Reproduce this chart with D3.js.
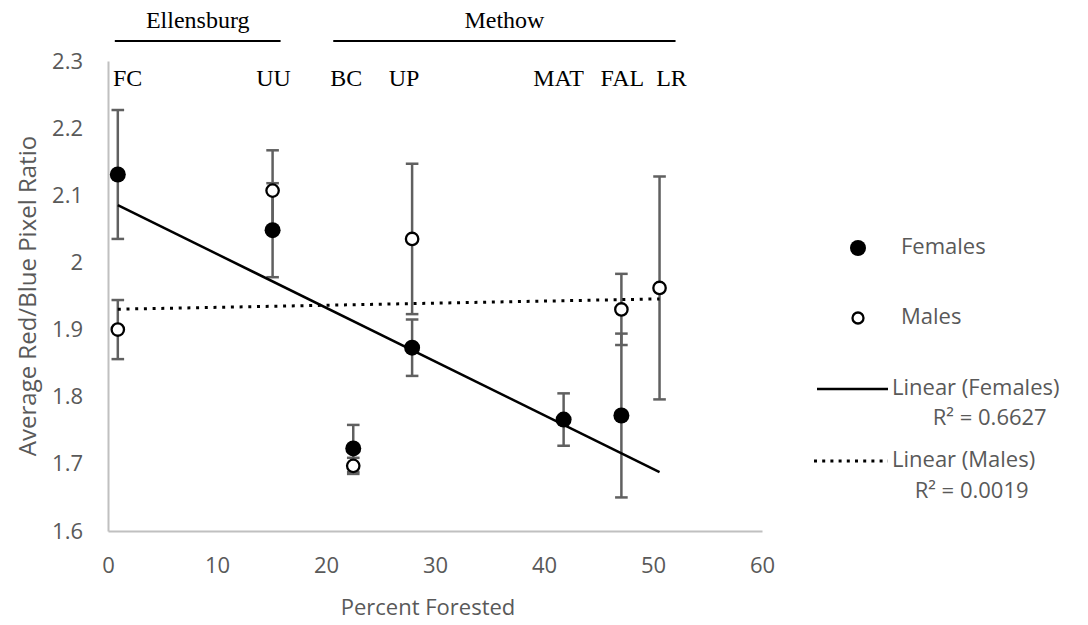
<!DOCTYPE html>
<html><head><meta charset="utf-8">
<script src="https://cdn.jsdelivr.net/npm/d3@7"></script>
<style>body{margin:0;background:#fff}</style>
</head><body><svg id="c" width="1088" height="625"></svg>
<script>
const sites = ["FC","UU","BC","UP","MAT","FAL","LR"];
const percentForested = [0.9,15.1,22.5,27.9,41.8,47.1,50.6];
const femaleMean = [2.131,2.048,1.723,1.873,1.766,1.772,null];
const femaleErr  = [0.096,0.070,0.035,0.042,0.039,0.122,null];
const maleMean   = [1.900,2.107,1.697,2.035,null,1.930,1.962];
const maleErr    = [0.044,0.060,0.012,0.112,null,0.053,0.166];
const xTicks = [0,10,20,30,40,50,60];
const yTicks = [1.6,1.7,1.8,1.9,2.0,2.1,2.2,2.3];
const regionNames = ["Ellensburg","Methow"];
const regionFirstSite = ["FC","BC"];
const regionLastSite = ["UU","LR"];
const legendLabels = ["Females","Males","Linear (Females)","Linear (Males)"];
const r2Labels = ["R² = 0.6627","R² = 0.0019"];
const xTitle = "Percent Forested";
const yTitle = "Average Red/Blue Pixel Ratio";

const svg = d3.select("#c");
const sans = "'Open Sans', sans-serif";
const serif = "'Liberation Serif', 'Times New Roman', serif";
const grey = "#595959";

const x = d3.scaleLinear().domain([0,60]).range([108,762]);
const y = d3.scaleLinear().domain([1.6,2.3]).range([531,61]);

// axes
const xAxis = svg.append("g").attr("transform",`translate(0,${y(1.6)})`)
  .call(d3.axisBottom(x).tickValues(xTicks).tickSize(0).tickPadding(26).tickFormat(d=>d));
const yAxis = svg.append("g").attr("transform",`translate(${x(0)},0)`)
  .call(d3.axisLeft(y).tickValues(yTicks).tickSize(0).tickPadding(25).tickFormat(d=>String(+d.toFixed(1))));
[xAxis,yAxis].forEach(a=>{
  a.select(".domain").attr("stroke","#c0c0c0").attr("stroke-width",2);
  a.selectAll("text").attr("font-family",sans).attr("font-size",22).attr("fill",grey);
});

svg.append("text").attr("x",(x(0)+x(60))/2-7).attr("y",615).attr("text-anchor","middle")
  .attr("font-family",sans).attr("font-size",22).attr("fill",grey).text(xTitle);
svg.append("text").attr("transform",`translate(30,${(y(1.6)+y(2.3))/2}) rotate(-90)`)
  .attr("text-anchor","middle").attr("dominant-baseline","middle")
  .attr("font-family",sans).attr("font-size",24).attr("fill",grey).text(yTitle);

// series data
const fem = sites.map((s,i)=>({s,x:percentForested[i],m:femaleMean[i],e:femaleErr[i]})).filter(d=>d.m!=null);
const mal = sites.map((s,i)=>({s,x:percentForested[i],m:maleMean[i],e:maleErr[i]})).filter(d=>d.m!=null);

function regress(d){
  const mx=d3.mean(d,v=>v.x), my=d3.mean(d,v=>v.m);
  const b=d3.sum(d,v=>(v.x-mx)*(v.m-my))/d3.sum(d,v=>(v.x-mx)**2);
  return xv=>my+b*(xv-mx);
}
const xr = d3.extent(percentForested);
const line = d3.line().x(d=>x(d[0])).y(d=>y(d[1]));

// error bars
function errBars(data){
  const g=svg.append("g").attr("stroke","#606060").attr("stroke-width",2.5);
  data.forEach(d=>{
    g.append("line").attr("x1",x(d.x)).attr("x2",x(d.x)).attr("y1",y(d.m-d.e)).attr("y2",y(d.m+d.e));
    [d.m-d.e,d.m+d.e].forEach(v=>g.append("line").attr("x1",x(d.x)-6.3).attr("x2",x(d.x)+6.3).attr("y1",y(v)).attr("y2",y(v)));
  });
}
errBars(fem); errBars(mal);

// trend lines
const fF=regress(fem), fM=regress(mal);
svg.append("path").attr("d",line(xr.map(v=>[v,fF(v)]))).attr("fill","none").attr("stroke","#000").attr("stroke-width",2.5);
svg.append("path").attr("d",line(xr.map(v=>[v,fM(v)]))).attr("fill","none").attr("stroke","#000").attr("stroke-width",3).attr("stroke-dasharray","3 5.7");

// markers
svg.append("g").selectAll("circle").data(mal).join("circle")
  .attr("cx",d=>x(d.x)).attr("cy",d=>y(d.m)).attr("r",6.2).attr("fill","#fff").attr("stroke","#000").attr("stroke-width",2.3);
svg.append("g").selectAll("circle").data(fem).join("circle")
  .attr("cx",d=>x(d.x)).attr("cy",d=>y(d.m)).attr("r",8).attr("fill","#000");

// site labels (hand-placed text boxes in the original, nudged from each site's position)
const labelNudge = {FC:0, UU:1, BC:-7, UP:-8, MAT:-5, FAL:1, LR:12};
svg.append("g").selectAll("text").data(sites).join("text")
  .attr("x",(s,i)=> s==="FC" ? x(0)+5 : x(percentForested[i])+labelNudge[s]).attr("y",86)
  .attr("text-anchor",s=>s==="FC"?"start":"middle")
  .attr("font-family",serif).attr("font-size",24).attr("fill","#000").text(s=>s);

// region headers
regionNames.forEach((n,i)=>{
  const a=x(percentForested[sites.indexOf(regionFirstSite[i])]), b=x(percentForested[sites.indexOf(regionLastSite[i])]);
  const x1 = i===0 ? a-3 : a-20, x2 = i===0 ? b+8 : b+16;
  svg.append("line").attr("x1",x1).attr("x2",x2).attr("y1",41).attr("y2",41).attr("stroke","#000").attr("stroke-width",2);
  svg.append("text").attr("x",(x1+x2)/2).attr("y",28).attr("text-anchor","middle")
    .attr("font-family",serif).attr("font-size",24).attr("fill","#000").text(n);
});

// legend
const lg=svg.append("g");
lg.append("circle").attr("cx",858).attr("cy",248).attr("r",8).attr("fill","#000");
lg.append("circle").attr("cx",858).attr("cy",318).attr("r",5.5).attr("fill","#fff").attr("stroke","#000").attr("stroke-width",2.3);
lg.append("line").attr("x1",817).attr("x2",888).attr("y1",389).attr("y2",389).attr("stroke","#000").attr("stroke-width",2.5);
lg.append("line").attr("x1",814).attr("x2",888).attr("y1",461).attr("y2",461).attr("stroke","#000").attr("stroke-width",3).attr("stroke-dasharray","3 5.2");
const lt=(t,xx,yy,anchor)=>lg.append("text").attr("x",xx).attr("y",yy).attr("text-anchor",anchor||"start")
  .attr("dominant-baseline","middle").attr("font-family",sans).attr("font-size",22).attr("fill",grey).text(t);
lt(legendLabels[0],901,248); lt(legendLabels[1],901,318);
const l1=lt(legendLabels[2],892,389), l2=lt(legendLabels[3],892,461);
const b1=l1.node().getBBox(), b2=l2.node().getBBox();
lt(r2Labels[0],b1.x+b1.width/2+14,419,"middle");
lt(r2Labels[1],b2.x+b2.width/2+8,492,"middle");
</script></body></html>
